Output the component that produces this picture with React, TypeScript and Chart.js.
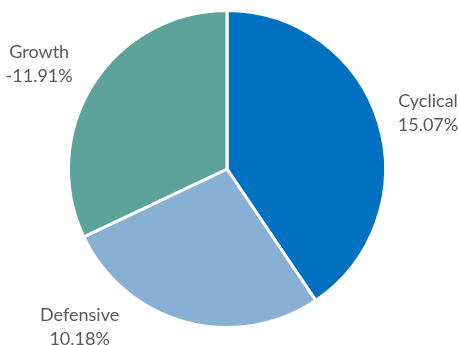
import React, { useEffect, useRef } from "react";
import { Chart, registerables } from "chart.js";

Chart.register(...registerables);

const categories = ["Cyclical", "Defensive", "Growth"];
const returns = [15.07, 10.18, -11.91];
const colors = ["#0070C0", "#88AFD4", "#5DA39A"];

// label anchor (first-line baseline) relative to pie centre, in radius units
const labelAnchors = [
  { x: 1.268, y: -0.392 },
  { x: -0.93, y: 0.959 },
  { x: -1.185, y: -0.703 },
];

const labelPlugin = {
  id: "outerLabels",
  afterDraw(chart: any) {
    const meta = chart.getDatasetMeta(0);
    const ctx = chart.ctx;
    ctx.save();
    ctx.fillStyle = "#595959";
    ctx.font = '18px Lato, "Open Sans", sans-serif';
    ctx.textAlign = "center";
    ctx.textBaseline = "alphabetic";
    meta.data.forEach((arc: any, i: number) => {
      const r = arc.outerRadius;
      const x = arc.x + labelAnchors[i].x * r;
      const y = arc.y + labelAnchors[i].y * r;
      const v = returns[i];
      ctx.fillText(categories[i], x, y);
      ctx.fillText(v.toFixed(2) + "%", x, y + 24);
    });
    ctx.restore();
  },
};

export default function App() {
  const ref = useRef<HTMLCanvasElement>(null);
  useEffect(() => {
    document.body.style.margin = "0";
    const chart = new Chart(ref.current!, {
      type: "pie",
      data: {
        labels: categories,
        datasets: [
          {
            data: returns.map((v) => Math.abs(v)),
            backgroundColor: colors,
            borderColor: "#ffffff",
            borderWidth: 3,
          },
        ],
      },
      options: {
        responsive: false,
        animation: false,
        layout: { padding: { left: 67, right: 73, top: 9, bottom: 16 } },
        plugins: {
          legend: { display: false },
          tooltip: { enabled: false },
        },
      },
      plugins: [labelPlugin],
    });
    return () => chart.destroy();
  }, []);
  return (
    <div style={{ width: 460, height: 345, background: "#fff" }}>
      <canvas ref={ref} width={460} height={345} />
    </div>
  );
}
